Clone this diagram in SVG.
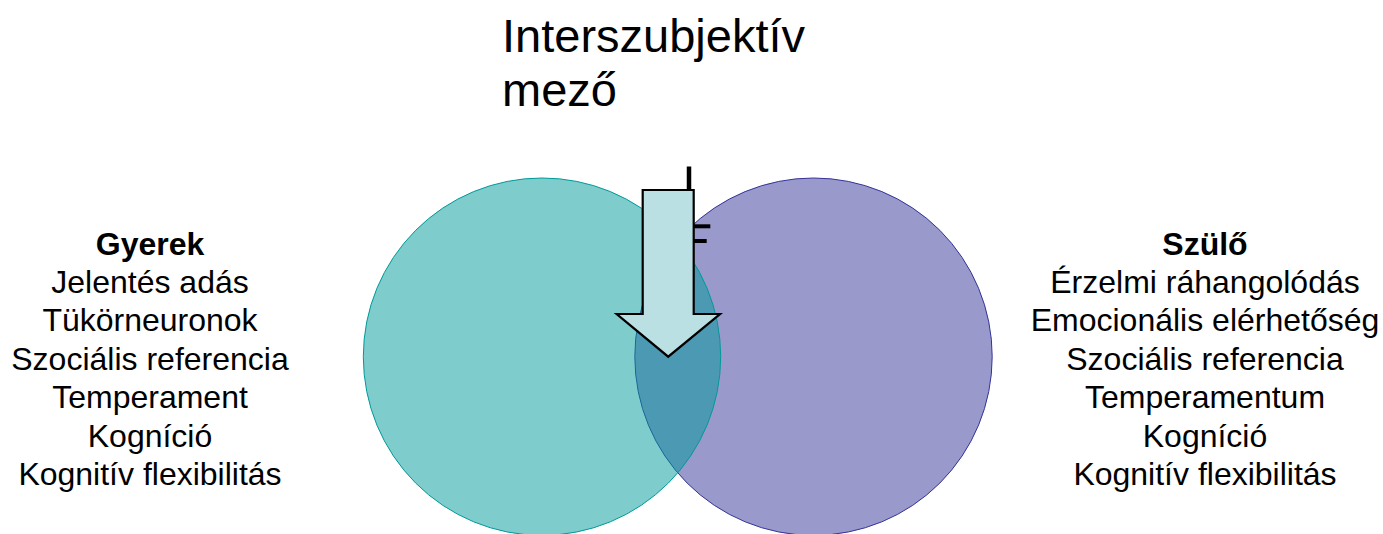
<svg xmlns="http://www.w3.org/2000/svg" width="1383" height="534" viewBox="0 0 1383 534">
<style>
text{font-family:"Liberation Sans",Arial,sans-serif;fill:#000}
.lbl{font-size:32px;text-anchor:middle}
.b{font-weight:bold}
.title{font-size:47px}
.mark{stroke:#000;fill:none}
</style>
<rect width="1383" height="534" fill="#fff"/>
<g id="szulo-circle">
<circle cx="813.5" cy="356.7" r="178.7" fill="#333399" fill-opacity="0.5" stroke="#333399" stroke-width="1"/>
</g>
<g id="gyerek-circle">
<circle cx="542" cy="356.7" r="178.7" fill="#009999" fill-opacity="0.5" stroke="#009999" stroke-width="1"/>
</g>
<g id="marks">
<line class="mark" x1="689" y1="166.5" x2="689" y2="190" stroke-width="4.5"/>
<line class="mark" x1="694" y1="226.3" x2="710.3" y2="226.3" stroke-width="4"/>
<line class="mark" x1="694" y1="241" x2="706.7" y2="241" stroke-width="4"/>
</g>
<g id="connectors">
<path d="M642.7 190 H693.7 V314 H720 L668.2 356.7 L616.7 314 H642.7 Z" fill="#BBE0E3" stroke="#000" stroke-width="2.2" stroke-linejoin="miter"/>
</g>
<g id="title">
<text class="title" x="502" y="52">Interszubjektív</text>
<text class="title" x="502" y="106">mező</text>
</g>
<g id="gyerek">
<text class="lbl b" x="150" y="254.5">Gyerek</text>
<text class="lbl" x="150" y="292.9">Jelentés adás</text>
<text class="lbl" x="150" y="331.3">Tükörneuronok</text>
<text class="lbl" x="150" y="369.7">Szociális referencia</text>
<text class="lbl" x="150" y="408.1">Temperament</text>
<text class="lbl" x="150" y="446.5">Kogníció</text>
<text class="lbl" x="150" y="484.9">Kognitív flexibilitás</text>
</g>
<g id="szulo">
<text class="lbl b" x="1205" y="254.5">Szülő</text>
<text class="lbl" x="1205" y="292.9">Érzelmi ráhangolódás</text>
<text class="lbl" x="1205" y="331.3">Emocionális elérhetőség</text>
<text class="lbl" x="1205" y="369.7">Szociális referencia</text>
<text class="lbl" x="1205" y="408.1">Temperamentum</text>
<text class="lbl" x="1205" y="446.5">Kogníció</text>
<text class="lbl" x="1205" y="484.9">Kognitív flexibilitás</text>
</g>
</svg>
